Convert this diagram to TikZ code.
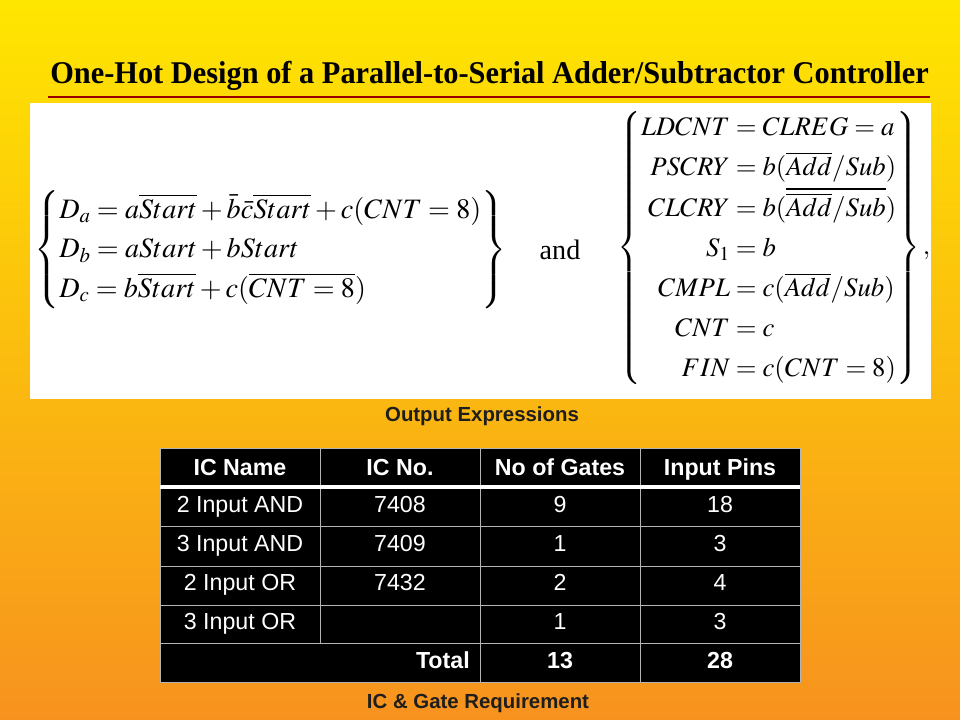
\documentclass[tikz,border=0pt]{standalone}
\usepackage{mathptmx}
\usepackage[no-math]{fontspec}
\setmainfont{Liberation Serif}
\setsansfont{Liberation Sans}
\usepackage{graphicx}
\definecolor{slidetop}{HTML}{FFE600}
\definecolor{slidemid}{HTML}{FDBA12}
\definecolor{slidebot}{HTML}{F7921E}
\definecolor{rulered}{HTML}{990000}
\definecolor{captiongray}{HTML}{1E1E1E}
\definecolor{tablegrid}{HTML}{B4B4B4}
\begin{document}
\begin{tikzpicture}[
        x=0.025cm, y=-0.025cm,
        titletext/.style={font=\fontsize{22.5}{26}\selectfont\rmfamily\bfseries, inner sep=0pt},
        titlerule/.style={rulered, line width=2.1pt},
        eqn/.style={font=\fontsize{20}{28}\selectfont, inner sep=0pt},
        caption/.style={font=\fontsize{14.5}{17}\selectfont\sffamily\bfseries, text=captiongray},
        cell/.style={font=\fontsize{16.5}{19}\selectfont\sffamily, text=white, inner sep=0pt, text height=12pt, text depth=3.5pt},
        head/.style={cell, font=\fontsize{16.5}{19}\selectfont\sffamily\bfseries},
        gridline/.style={tablegrid, line width=0.7pt}
    ]
        % Background
        \useasboundingbox (0,0) rectangle (960,720);
        \shade[top color=slidetop, middle color=slidemid, bottom color=slidebot] (0,0) rectangle (960,720);
        
        % Title
        \node[titletext, anchor=base west] (title) at (50,84) {\scalebox{0.96}[1]{One-Hot Design of a Parallel-to-Serial Adder/Subtractor Controller}};
        \draw[titlerule] (48,97) -- (930,97);
        
        % Output expressions
        \fill[white] (30,103) rectangle (931,399);
        \node[eqn, anchor=west] (dsys) at (34,250) {$\left\{\begin{array}{@{}l@{}}
            D_a = a\overline{Start} + \bar{b}\bar{c}\overline{Start} + c(CNT = 8)\\
            D_b = aStart + bStart\\
            D_c = b\overline{Start} + c(\overline{CNT = 8})
            \end{array}\right\}$};
        \node[eqn] (andword) at (560,250) {and};
        \node[eqn, font=\fontsize{19}{28.5}\selectfont, anchor=west] (osys) at (617,248) {$\delimiterfactor 850 \delimitershortfall 16pt \left\{\begin{array}{@{}r@{}l@{}}
            LDCNT &{}= CLREG = a\\
            PSCRY &{}= b(\overline{Add}/Sub)\\
            CLCRY &{}= b(\overline{\overline{Add}/Sub})\\
            S_1 &{}= b\\
            CMPL &{}= c(\overline{Add}/Sub)\\
            CNT &{}= c\\
            FIN &{}= c(CNT = 8)
            \end{array}\right\},$};
        \node[caption] (outcap) at (482,416) {Output Expressions};
        
        % Table
        \fill[black] (160,448) rectangle (800,682);
        \foreach \y in {526,566,605,643}
            \draw[gridline] (160,\y) -- (800,\y);
        \draw[gridline] (320,448) -- (320,643);
        \draw[gridline] (480,448) -- (480,682);
        \draw[gridline] (640,448) -- (640,682);
        \draw[gridline] (160,448) rectangle (800,682);
        \draw[white, line width=2.8pt] (160,487) -- (800,487);
        
        % Header row
        \node[head] (h-name) at (240,470) {IC Name};
        \node[head] (h-no) at (400,470) {IC No.};
        \node[head] (h-gates) at (560,470) {No of Gates};
        \node[head] (h-pins) at (720,470) {Input Pins};
        
        % Body rows
        \foreach \icname/\icno/\gates/\pins [count=\r] in {2 Input AND/7408/9/18, 3 Input AND/7409/1/3, 2 Input OR/7432/2/4, 3 Input OR//1/3}{
            \node[cell] (name-\r) at (240,468+39*\r) {\icname};
            \node[cell] (no-\r) at (400,468+39*\r) {\icno};
            \node[cell] (gates-\r) at (560,468+39*\r) {\gates};
            \node[cell] (pins-\r) at (720,468+39*\r) {\pins};
        }
        
        % Total row
        \node[head, anchor=east] (total) at (470,663) {Total};
        \node[head] (gates-total) at (560,663) {13};
        \node[head] (pins-total) at (720,663) {28};
        \node[caption] (tabcap) at (478,703) {IC \& Gate Requirement};
    \end{tikzpicture}
\end{document}
